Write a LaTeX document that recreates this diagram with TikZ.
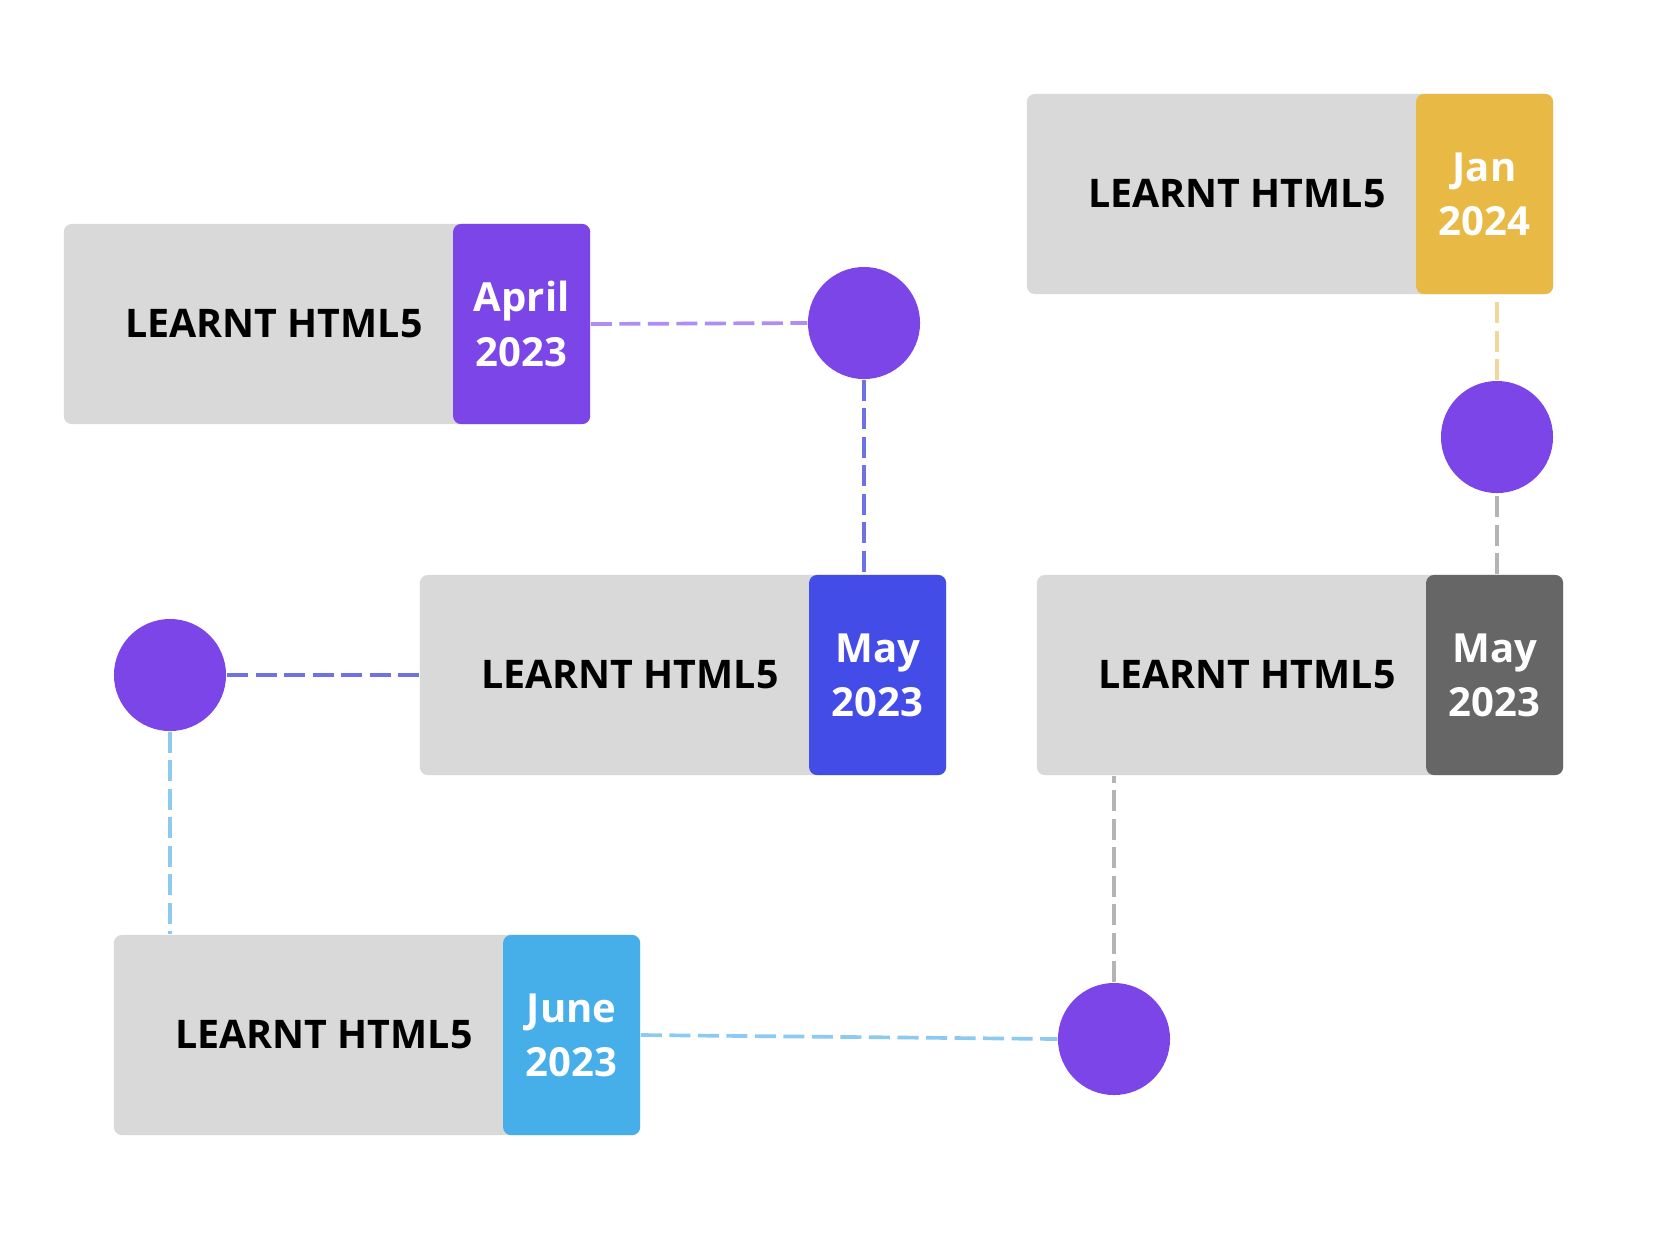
\documentclass[tikz,border=0pt]{standalone}
\usepackage{fontspec}
\setsansfont{Open Sans}
\usetikzlibrary{positioning}
\definecolor{cardgrey}{HTML}{D9D9D9}
\definecolor{dotpurple}{HTML}{7B45E8}
\definecolor{datepurple}{HTML}{7B45E8}
\definecolor{dateblue}{HTML}{444CE8}
\definecolor{datesky}{HTML}{46AEE8}
\definecolor{dategrey}{HTML}{666666}
\definecolor{dategold}{HTML}{E8BA45}
\definecolor{linkpurple}{HTML}{B08CF5}
\definecolor{linkblue}{HTML}{6E72E6}
\definecolor{linksky}{HTML}{8CCAF0}
\definecolor{linkgrey}{HTML}{B4B4B4}
\definecolor{linkgold}{HTML}{F0D89A}

\begin{document}
\begin{tikzpicture}[
    x=0.01cm, y=-0.01cm,
    card/.style={rectangle, fill=cardgrey, rounded corners=0.08cm, minimum width=5.26cm, minimum height=2cm, inner sep=0pt},
    datebox/.style={rectangle, rounded corners=0.08cm, minimum width=1.37cm, minimum height=2cm, inner sep=0pt, anchor=east,
      align=center, text=white, font=\sffamily\bfseries\fontsize{11.4}{15.4}\selectfont},
    what/.style={inner sep=0pt, anchor=east, font=\sffamily\bfseries\fontsize{11.2}{14}\selectfont},
    dot/.style={circle, fill=dotpurple, minimum size=1.12cm, inner sep=0pt},
    link/.style={line width=1.05pt, dash pattern=on 0.21cm off 0.075cm}
  ]
  \useasboundingbox (0,0) rectangle (1663,1250);

  \node[card] (c1) at (327,324) {};
  \node[datebox, fill=datepurple] (d1) at (c1.east) {April\\2023};
  \node[what] at ([xshift=-0.29cm]d1.west) {LEARNT HTML5};

  \node[card] (c2) at (683,675) {};
  \node[datebox, fill=dateblue] (d2) at (c2.east) {May\\2023};
  \node[what] at ([xshift=-0.29cm]d2.west) {LEARNT HTML5};

  \node[card] (c3) at (377,1035) {};
  \node[datebox, fill=datesky] (d3) at (c3.east) {June\\2023};
  \node[what] at ([xshift=-0.29cm]d3.west) {LEARNT HTML5};

  \node[card] (c4) at (1300,675) {};
  \node[datebox, fill=dategrey] (d4) at (c4.east) {May\\2023};
  \node[what] at ([xshift=-0.29cm]d4.west) {LEARNT HTML5};

  \node[card] (c5) at (1290,194) {};
  \node[datebox, fill=dategold] (d5) at (c5.east) {Jan\\2024};
  \node[what] at ([xshift=-0.29cm]d5.west) {LEARNT HTML5};

  \node[dot] (p1) at (864,323) {};
  \node[dot] (p2) at (170,675) {};
  \node[dot] (p3) at (1114,1039) {};
  \node[dot] (p4) at (1497,437) {};

  \draw[link, linkpurple] (d1.east) -- (p1.west);
  \draw[link, linkblue] (p1.south) -- (p1 |- d2.north);
  \draw[link, linkblue] (c2.west) -- (p2.east);
  \draw[link, linksky] (p2.south) -- (p2 |- c3.north);
  \draw[link, linksky] (d3.east) -- (p3.west);
  \draw[link, linkgrey] (p3.north) -- (p3 |- c4.south);
  \draw[link, linkgrey] (d4.north -| p4) -- (p4.south);
  \draw[link, linkgold] (p4.north) -- (p4 |- d5.south);
\end{tikzpicture}
\end{document}
